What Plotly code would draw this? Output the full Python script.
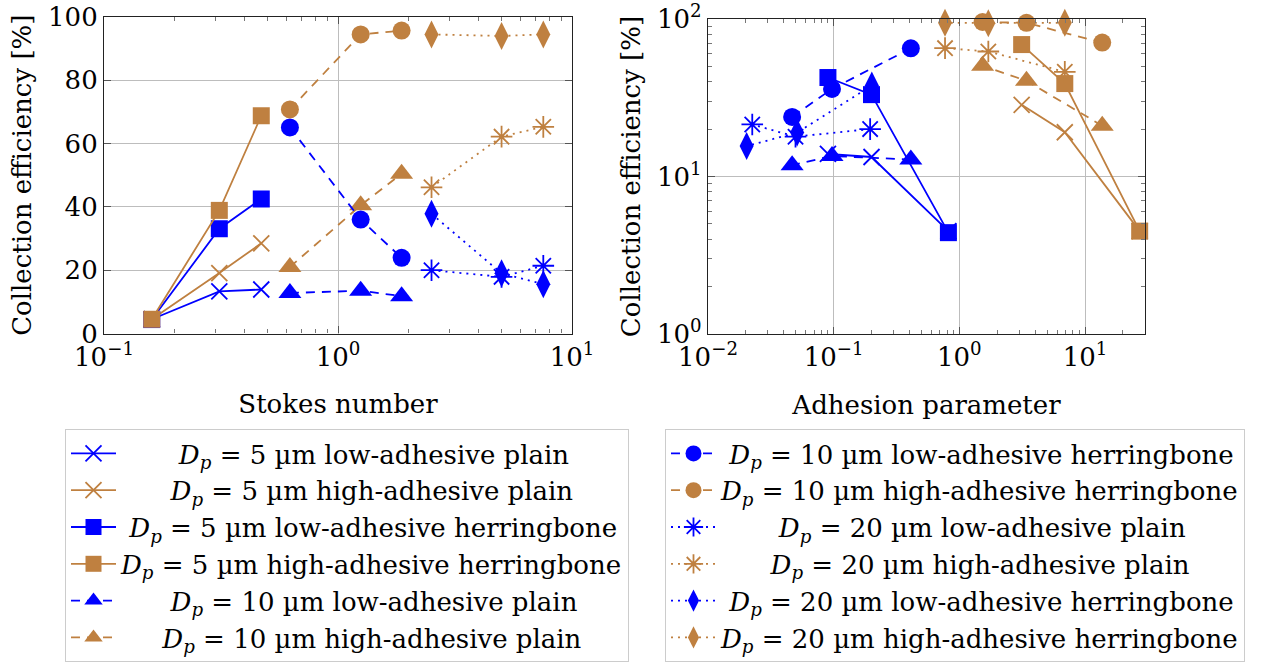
import plotly.graph_objects as go

BLUE = "#0000FF"
BROWN = "#BF8040"
FONT = "DejaVu Serif"

# ---- data ----
stokes_5 = [0.16, 0.311, 0.47]
stokes_10 = [0.623, 1.25, 1.87]
stokes_20 = [2.51, 5.0, 7.54]

adh_5_low = [0.818, 0.2, 0.09]
adh_5_high = [27.2, 6.9, 3.13]
adh_10_low = [0.411, 0.097, 0.0467]
adh_10_high = [13.7, 3.42, 1.53]
adh_20_low_plain = [0.195, 0.0497, 0.0225]
adh_20_low_herr = [0.201, 0.0512, 0.0203]
adh_20_high = [6.9, 1.70, 0.769]

eff_5_low_plain = [4.5, 13.3, 13.9]
eff_5_high_plain = [4.5, 19.1, 28.5]
eff_5_low_herr = [4.4, 33.1, 42.5]
eff_5_high_herr = [4.5, 38.9, 68.8]
eff_10_low_plain = [12.8, 13.5, 11.8]
eff_10_high_plain = [21.0, 40.5, 50.5]
eff_10_low_herr = [65.1, 36.0, 23.9]
eff_10_high_herr = [70.8, 94.5, 95.7]
eff_20_low_plain = [20.0, 17.9, 21.4]
eff_20_high_plain = [46.2, 62.2, 65.3]
eff_20_low_herr = [37.8, 19.0, 15.6]
eff_20_high_herr = [94.5, 94.0, 94.5]

labels = [
    "<i>D</i><sub><i>p</i></sub> = 5 µm low-adhesive plain",
    "<i>D</i><sub><i>p</i></sub> = 5 µm high-adhesive plain",
    "<i>D</i><sub><i>p</i></sub> = 5 µm low-adhesive herringbone",
    "<i>D</i><sub><i>p</i></sub> = 5 µm high-adhesive herringbone",
    "<i>D</i><sub><i>p</i></sub> = 10 µm low-adhesive plain",
    "<i>D</i><sub><i>p</i></sub> = 10 µm high-adhesive plain",
    "<i>D</i><sub><i>p</i></sub> = 10 µm low-adhesive herringbone",
    "<i>D</i><sub><i>p</i></sub> = 10 µm high-adhesive herringbone",
    "<i>D</i><sub><i>p</i></sub> = 20 µm low-adhesive plain",
    "<i>D</i><sub><i>p</i></sub> = 20 µm high-adhesive plain",
    "<i>D</i><sub><i>p</i></sub> = 20 µm low-adhesive herringbone",
    "<i>D</i><sub><i>p</i></sub> = 20 µm high-adhesive herringbone",
]
# non-breaking spaces used to centre legend texts (styling only)
label_pad = [7, 6, 1, 0, 6, 5, 1, 0, 7, 6, 1, 0]

x_ticktext_left = ["10<sup>−1</sup>", "10<sup>0</sup>", "10<sup>1</sup>"]
x_tickvals_left = [0.1, 1, 10]
x_ticktext_right = ["10<sup>−2</sup>", "10<sup>−1</sup>", "10<sup>0</sup>", "10<sup>1</sup>"]
x_tickvals_right = [0.01, 0.1, 1, 10]
y_ticktext_right = ["10<sup>0</sup>", "10<sup>1</sup>", "10<sup>2</sup>"]
y_tickvals_right = [1, 10, 100]

DASH = "9px,7px"
DOT = "2px,5px"

series = [
    (stokes_5, adh_5_low, eff_5_low_plain, BLUE, "x-thin", 16, "solid", "legend"),
    (stokes_5, adh_5_high, eff_5_high_plain, BROWN, "x-thin", 16, "solid", "legend"),
    (stokes_5, adh_5_low, eff_5_low_herr, BLUE, "square", 17, "solid", "legend"),
    (stokes_5, adh_5_high, eff_5_high_herr, BROWN, "square", 17, "solid", "legend"),
    (stokes_10, adh_10_low, eff_10_low_plain, BLUE, "triangle-up", 20, DASH, "legend"),
    (stokes_10, adh_10_high, eff_10_high_plain, BROWN, "triangle-up", 20, DASH, "legend"),
    (stokes_10, adh_10_low, eff_10_low_herr, BLUE, "circle", 18, DASH, "legend2"),
    (stokes_10, adh_10_high, eff_10_high_herr, BROWN, "circle", 18, DASH, "legend2"),
    (stokes_20, adh_20_low_plain, eff_20_low_plain, BLUE, "asterisk", 18, DOT, "legend2"),
    (stokes_20, adh_20_high, eff_20_high_plain, BROWN, "asterisk", 18, DOT, "legend2"),
    (stokes_20, adh_20_low_herr, eff_20_low_herr, BLUE, "diamond-tall", 20, DOT, "legend2"),
    (stokes_20, adh_20_high, eff_20_high_herr, BROWN, "diamond-tall", 20, DOT, "legend2"),
]

fig = go.Figure()
for i, (st, ad, ef, col, sym, sz, dash, leg) in enumerate(series):
    open_sym = sym in ("x-thin", "asterisk")
    marker = dict(symbol=sym, size=sz, color=col,
                  line=dict(width=1.8 if open_sym else 0, color=col))
    name = "\u00a0" * label_pad[i] + labels[i]
    fig.add_trace(go.Scatter(
        x=st, y=ef, mode="lines+markers", name=name, cliponaxis=False,
        line=dict(color=col, width=1.8, dash=dash), marker=marker,
        legend=leg, legendgroup=f"g{i}", xaxis="x", yaxis="y"))
    fig.add_trace(go.Scatter(
        x=ad, y=ef, mode="lines+markers", name=name, cliponaxis=False,
        line=dict(color=col, width=1.8, dash=dash), marker=marker,
        legend=leg, legendgroup=f"g{i}", showlegend=False,
        xaxis="x2", yaxis="y2"))

W, H = 1277, 662
tickfont = dict(family=FONT, size=26, color="black")
common = dict(showline=True, linecolor="#222", linewidth=1.2, mirror="ticks",
              ticks="inside", ticklen=7, tickcolor="#555",
              showgrid=True, gridcolor="#bdbdbd", gridwidth=1,
              zeroline=False, tickfont=tickfont, automargin=False,
              ticklabeloverflow="allow")

minor_left_x = [m * 10 ** e for e in (-1, 0) for m in range(2, 10)]
minor_right_x = [m * 10 ** e for e in (-2, -1, 0, 1) for m in range(2, 10)]
minor_right_y = [m * 10 ** e for e in (0, 1) for m in range(2, 10)]
minor = dict(ticks="inside", ticklen=4, tickcolor="#777", showgrid=False, tickmode="array")
tfont = dict(family=FONT, size=26, color="black")
lfont = dict(family=FONT, size=26, color="black")

fig.update_layout(
    width=W, height=H, margin=dict(l=0, r=0, t=0, b=0, autoexpand=False),
    paper_bgcolor="white", plot_bgcolor="white",
    font=dict(family=FONT, size=26, color="black"),
    xaxis=dict(common, type="log", domain=[104 / W, 572 / W], range=[-1, 1],
               tickmode="array", tickvals=x_tickvals_left, ticktext=x_ticktext_left,
               minor=dict(minor, tickvals=minor_left_x),
               title=dict(text="Stokes number", font=tfont, standoff=24),
               anchor="y"),
    yaxis=dict(common, domain=[1 - 333.5 / H, 1 - 17 / H], range=[0, 100],
               tickvals=[0, 20, 40, 60, 80, 100],
               title=dict(text="Collection efficiency [%]", font=tfont, standoff=8),
               anchor="x"),
    xaxis2=dict(common, type="log", domain=[708 / W, 1145 / W], range=[-2, 1.477],
                tickmode="array", tickvals=x_tickvals_right, ticktext=x_ticktext_right,
                minor=dict(minor, tickvals=minor_right_x),
                title=dict(text="Adhesion parameter", font=tfont, standoff=24),
                anchor="y2"),
    yaxis2=dict(common, type="log", domain=[1 - 334 / H, 1 - 19 / H], range=[0, 2],
                tickmode="array", tickvals=y_tickvals_right, ticktext=y_ticktext_right,
                minor=dict(minor, tickvals=minor_right_y),
                title=dict(text="Collection efficiency [%]", font=tfont, standoff=8),
                anchor="x2"),
    legend=dict(x=65 / W, y=1 - 429 / H, xanchor="left", yanchor="top",
                bordercolor="#cccccc", borderwidth=1, bgcolor="white",
                font=lfont, tracegroupgap=0, itemwidth=45, traceorder="grouped"),
    legend2=dict(x=665 / W, y=1 - 429 / H, xanchor="left", yanchor="top",
                 bordercolor="#cccccc", borderwidth=1, bgcolor="white",
                 font=lfont, tracegroupgap=0, itemwidth=45, traceorder="grouped"),
)

fig.write_html("out.html")
